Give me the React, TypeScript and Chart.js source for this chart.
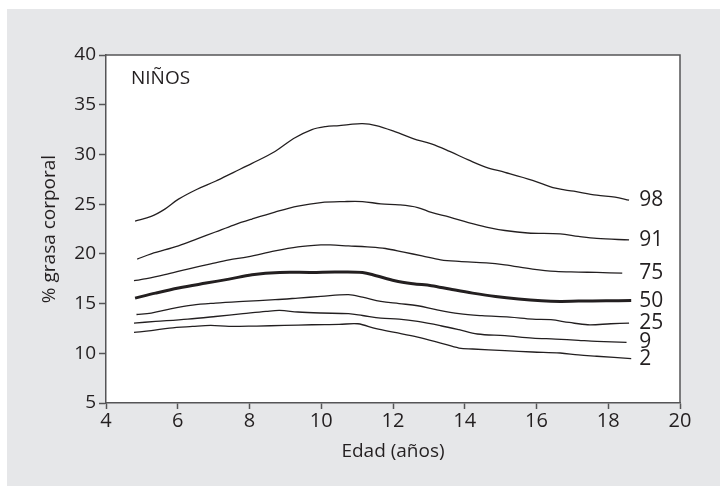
import React, { useEffect, useRef } from "react";
import { Chart, registerables } from "chart.js";

Chart.register(...registerables);

// Percentile names (right-hand labels)
const percentiles = ["98", "91", "75", "50", "25", "9", "2"];

// [age, % body fat]
const p98: number[][] = [
  [4.81, 23.3], [5.26, 23.76], [5.64, 24.5], [6.02, 25.5], [6.54, 26.5], [7.05, 27.3],
  [7.56, 28.2], [8.07, 29.1], [8.71, 30.3], [9.23, 31.6], [9.74, 32.5], [10.12, 32.8],
  [10.5, 32.9], [10.76, 33.0], [11.15, 33.1], [11.53, 32.9], [12.05, 32.3], [12.56, 31.6],
  [13.07, 31.06], [13.58, 30.3], [14.1, 29.45], [14.6, 28.7], [15.12, 28.2], [15.89, 27.4],
  [16.53, 26.6], [17.04, 26.3], [17.68, 25.9], [18.19, 25.7], [18.58, 25.4],
];
const p91: number[][] = [
  [4.87, 19.47], [5.26, 20.0], [6.02, 20.8], [6.54, 21.5], [7.05, 22.2], [7.56, 22.9],
  [8.07, 23.5], [8.71, 24.2], [9.35, 24.8], [9.99, 25.16], [10.64, 25.26], [11.15, 25.26],
  [11.66, 25.03], [12.17, 24.93], [12.69, 24.66], [13.07, 24.16], [13.58, 23.7], [14.1, 23.15],
  [14.6, 22.7], [15.12, 22.35], [15.76, 22.1], [16.66, 22.0], [17.17, 21.75], [17.68, 21.55],
  [18.58, 21.4],
];
const p75: number[][] = [
  [4.78, 17.3], [5.13, 17.5], [5.64, 17.9], [6.28, 18.47], [6.92, 19.0], [7.43, 19.4],
  [7.95, 19.7], [8.71, 20.3], [9.35, 20.7], [9.99, 20.9], [10.25, 20.9], [10.76, 20.8],
  [11.28, 20.7], [11.79, 20.54], [12.3, 20.17], [12.81, 19.8], [13.33, 19.4], [13.84, 19.24],
  [14.6, 19.1], [15.12, 18.9], [15.89, 18.47], [16.53, 18.23], [17.17, 18.17], [17.68, 18.13],
  [18.39, 18.06],
];
const p50: number[][] = [
  [4.81, 15.55], [5.38, 16.05], [6.02, 16.56], [6.79, 17.06], [7.43, 17.46], [8.07, 17.9],
  [8.84, 18.13], [9.74, 18.13], [10.38, 18.17], [11.15, 18.13], [11.53, 17.8], [12.05, 17.3],
  [12.56, 17.0], [13.07, 16.8], [13.58, 16.46], [14.22, 16.05], [14.86, 15.7], [15.5, 15.45],
  [16.14, 15.28], [16.66, 15.22], [17.17, 15.25], [17.94, 15.28], [18.64, 15.3],
];
const p25: number[][] = [
  [4.85, 13.9], [5.26, 14.05], [5.77, 14.45], [6.41, 14.85], [7.05, 15.05], [7.82, 15.22],
  [8.71, 15.39], [9.35, 15.55], [9.99, 15.72], [10.76, 15.9], [11.15, 15.65], [11.66, 15.22],
  [12.17, 15.0], [12.69, 14.78], [13.2, 14.38], [13.84, 13.98], [14.48, 13.78], [15.25, 13.64],
  [15.89, 13.44], [16.4, 13.38], [16.91, 13.1], [17.43, 12.87], [18.07, 12.97], [18.58, 13.04],
];
const p9: number[][] = [
  [4.78, 13.04], [5.38, 13.2], [6.28, 13.44], [7.05, 13.7], [7.82, 13.98], [8.46, 14.21],
  [8.84, 14.31], [9.35, 14.15], [9.99, 14.05], [10.76, 13.98], [11.15, 13.8], [11.66, 13.54],
  [12.17, 13.44], [12.69, 13.2], [13.33, 12.77], [13.84, 12.37], [14.35, 11.94], [15.12, 11.77],
  [15.89, 11.53], [16.53, 11.43], [17.17, 11.3], [17.68, 11.2], [18.51, 11.1],
];
const p2: number[][] = [
  [4.78, 12.1], [5.26, 12.27], [5.77, 12.54], [6.41, 12.7], [6.92, 12.8], [7.43, 12.7],
  [8.2, 12.74], [8.97, 12.8], [9.74, 12.87], [10.5, 12.9], [11.02, 12.97], [11.53, 12.47],
  [12.05, 12.1], [12.69, 11.63], [13.33, 11.03], [13.84, 10.53], [14.22, 10.43], [15.12, 10.26],
  [15.89, 10.13], [16.66, 10.03], [17.17, 9.83], [17.68, 9.7], [18.64, 9.46],
];

const xMin = 4, xMax = 20, xStep = 2;
const yMin = 5, yMax = 40, yStep = 5;

const panelTitle = "NIÑOS";
const xTitle = "Edad (años)";
const yTitle = "% grasa corporal";

const INK = "#231f20";
const AXIS = "#555557";
const FONT = "'Open Sans', 'Noto Sans', sans-serif";

export default function App() {
  const ref = useRef<HTMLCanvasElement>(null);

  useEffect(() => {
    const canvas = ref.current;
    if (!canvas) return;
    const series = [p98, p91, p75, p50, p25, p9, p2];

    const plotBg = {
      id: "plotBg",
      beforeDraw(chart: any) {
        const { ctx, chartArea: a } = chart;
        ctx.save();
        ctx.fillStyle = "#ffffff";
        ctx.fillRect(a.left, a.top, a.right - a.left, a.bottom - a.top);
        ctx.restore();
      },
    };

    const frame = {
      id: "frame",
      afterDraw(chart: any) {
        const { ctx, chartArea: a } = chart;
        ctx.save();
        ctx.strokeStyle = AXIS;
        ctx.lineWidth = 1.5;
        ctx.beginPath();
        ctx.moveTo(a.left, a.top);
        ctx.lineTo(a.right, a.top);
        ctx.lineTo(a.right, a.bottom);
        ctx.stroke();
        ctx.fillStyle = INK;
        ctx.font = `19px ${FONT}`;
        ctx.textAlign = "left";
        ctx.textBaseline = "alphabetic";
        ctx.fillText(panelTitle, a.left + 25, a.top + 29);
        ctx.restore();
      },
    };

    const endLabels = {
      id: "endLabels",
      afterDatasetsDraw(chart: any) {
        const { ctx } = chart;
        let maxX = 0;
        chart.data.datasets.forEach((_: any, i: number) => {
          const pts = chart.getDatasetMeta(i).data;
          maxX = Math.max(maxX, pts[pts.length - 1].x);
        });
        ctx.save();
        ctx.fillStyle = INK;
        ctx.font = `21px ${FONT}`;
        ctx.textAlign = "left";
        ctx.textBaseline = "middle";
        chart.data.datasets.forEach((ds: any, i: number) => {
          const pts = chart.getDatasetMeta(i).data;
          const last = pts[pts.length - 1];
          ctx.fillText(ds.label, maxX + 8, last.y);
        });
        ctx.restore();
      },
    };

    const chart = new Chart(canvas, {
      type: "line",
      data: {
        datasets: series.map((s, i) => ({
          label: percentiles[i],
          data: s.map(([x, y]) => ({ x, y })),
          borderColor: INK,
          borderWidth: percentiles[i] === "50" ? 3 : 1.3,
          pointRadius: 0,
          fill: false,
          tension: 0.35,
        })),
      },
      options: {
        responsive: false,
        animation: false,
        layout: { padding: { top: 46, right: 40, left: 0, bottom: 0 } },
        plugins: {
          legend: { display: false },
          tooltip: { enabled: false },
        },
        scales: {
          x: {
            type: "linear",
            min: xMin,
            max: xMax,
            ticks: {
              stepSize: xStep,
              color: INK,
              font: { family: FONT, size: 20 },
              padding: 0,
              maxRotation: 0,
            },
            grid: { drawOnChartArea: false, drawTicks: true, tickLength: 6, color: AXIS, tickWidth: 1.5 },
            border: { color: AXIS, width: 1.5 },
            title: {
              display: true,
              text: xTitle,
              color: INK,
              font: { family: FONT, size: 19 },
              padding: { top: 0, bottom: 23 },
            },
            afterFit: (s: any) => { s.height = 83; },
          },
          y: {
            type: "linear",
            min: yMin,
            max: yMax,
            ticks: {
              stepSize: yStep,
              color: INK,
              font: { family: FONT, size: 19 },
              padding: 3,
            },
            grid: { drawOnChartArea: false, drawTicks: true, tickLength: 7, color: AXIS, tickWidth: 1.5 },
            border: { color: AXIS, width: 1.5 },
            title: {
              display: true,
              text: yTitle,
              color: INK,
              font: { family: FONT, size: 19 },
              padding: { top: 31, bottom: 0 },
            },
            afterFit: (s: any) => { s.width = 99; },
          },
        },
      },
      plugins: [plotBg, endLabels, frame],
    });

    return () => chart.destroy();
  }, []);

  return (
    <div
      style={{
        position: "absolute",
        left: 7,
        top: 9,
        width: 713,
        height: 477,
        background: "#e6e7e9",
      }}
    >
      <canvas ref={ref} width={713} height={477} style={{ display: "block" }} />
    </div>
  );
}
